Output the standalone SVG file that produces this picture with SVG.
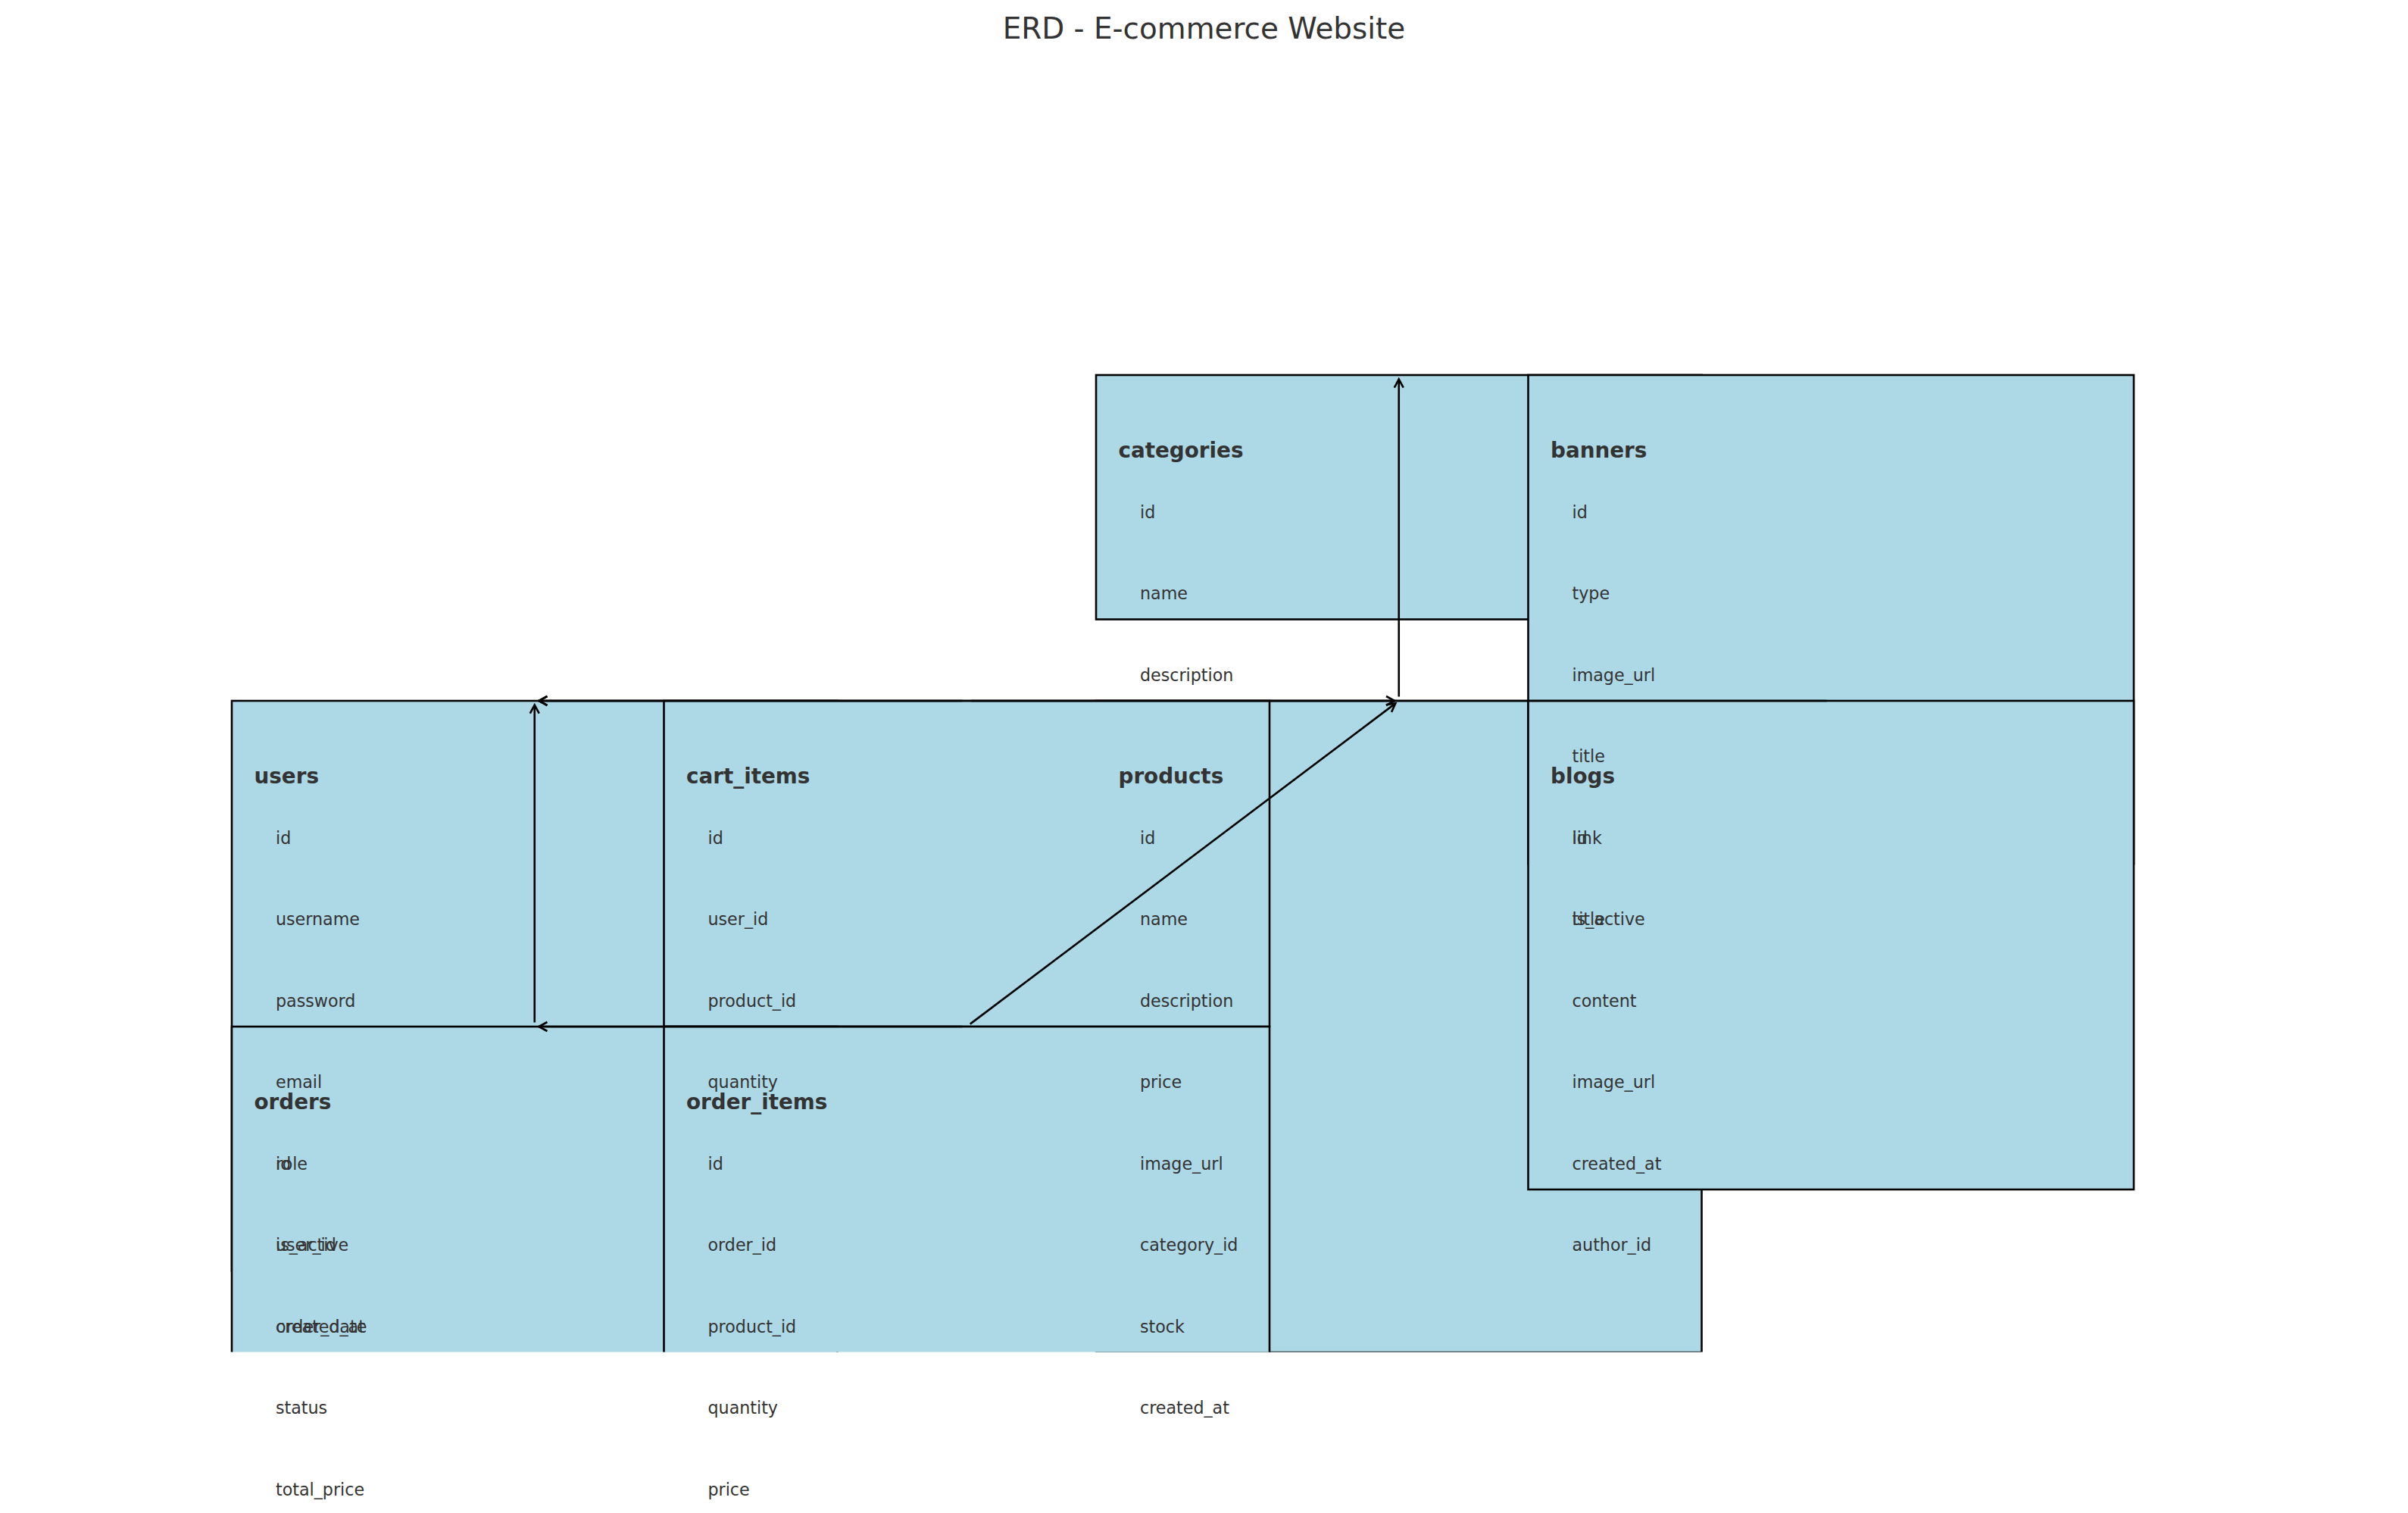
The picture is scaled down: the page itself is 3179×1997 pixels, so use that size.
<svg xmlns="http://www.w3.org/2000/svg" width="3179" height="1997" viewBox="0 0 3179 1997">
  <style>
    .tbl { fill: #ADD8E6; stroke: #000; stroke-width: 2.6; }
    .ttl { font-family: "DejaVu Sans", "Liberation Sans", sans-serif; font-size: 27.8px; font-weight: bold; fill: #333333; }
    .fld { font-family: "DejaVu Sans", "Liberation Sans", sans-serif; font-size: 22.2px; fill: #333333; }
    .head { font-family: "DejaVu Sans", "Liberation Sans", sans-serif; font-size: 38.9px; fill: #333333; }
    .rel { stroke: #000; stroke-width: 2.6; fill: none; marker-end: url(#open); }
  </style>
  <defs>
    <!-- plot area: shapes are clipped at its lower edge -->
    <clipPath id="plot">
      <rect x="0" y="0" width="3179" height="1784.5"/>
    </clipPath>
    <marker id="open" markerUnits="userSpaceOnUse" markerWidth="30" markerHeight="30" refX="0" refY="0" viewBox="-15 -15 30 30" orient="auto" overflow="visible">
      <path d="M -11.1 -6 L 0 0 L -11.1 6" fill="none" stroke="#000" stroke-width="2.6" stroke-linejoin="miter"/>
    </marker>
  </defs>

  <rect width="3179" height="1997" fill="#fff"/>

  <text class="head" x="1589.5" y="51" text-anchor="middle">ERD - E-commerce Website</text>

  <!-- table boxes -->
  <g id="tables" clip-path="url(#plot)">
    <g id="users"><rect class="tbl" x="306" y="925" width="799.5" height="752.5"/></g>
    <g id="categories"><rect class="tbl" x="1447" y="495" width="799.5" height="322.5"/></g>
    <g id="products"><rect class="tbl" x="1447" y="925" width="799.5" height="860"/></g>
    <g id="cart_items"><rect class="tbl" x="876.5" y="925" width="799.5" height="430"/></g>
    <g id="orders"><rect class="tbl" x="306" y="1355" width="799.5" height="537.5"/></g>
    <g id="order_items"><rect class="tbl" x="876.5" y="1355" width="799.5" height="537.5"/></g>
    <g id="banners"><rect class="tbl" x="2017.5" y="495" width="799.5" height="645"/></g>
    <g id="blogs"><rect class="tbl" x="2017.5" y="925" width="799.5" height="645"/></g>
  </g>

  <!-- table names and columns -->
  <g id="labels">
    <g id="users-labels">
      <text class="ttl" x="335.5" y="1033.5">users</text>
      <text class="fld" x="364" y="1113.5">id</text>
      <text class="fld" x="364" y="1221">username</text>
      <text class="fld" x="364" y="1328.5">password</text>
      <text class="fld" x="364" y="1436">email</text>
      <text class="fld" x="364" y="1543.5">role</text>
      <text class="fld" x="364" y="1651">is_active</text>
      <text class="fld" x="364" y="1758.5">created_at</text>
    </g>
    <g id="categories-labels">
      <text class="ttl" x="1476.5" y="603.5">categories</text>
      <text class="fld" x="1505" y="683.5">id</text>
      <text class="fld" x="1505" y="791">name</text>
      <text class="fld" x="1505" y="898.5">description</text>
    </g>
    <g id="products-labels">
      <text class="ttl" x="1476.5" y="1033.5">products</text>
      <text class="fld" x="1505" y="1113.5">id</text>
      <text class="fld" x="1505" y="1221">name</text>
      <text class="fld" x="1505" y="1328.5">description</text>
      <text class="fld" x="1505" y="1436">price</text>
      <text class="fld" x="1505" y="1543.5">image_url</text>
      <text class="fld" x="1505" y="1651">category_id</text>
      <text class="fld" x="1505" y="1758.5">stock</text>
      <text class="fld" x="1505" y="1866">created_at</text>
    </g>
    <g id="cart_items-labels">
      <text class="ttl" x="906" y="1033.5">cart_items</text>
      <text class="fld" x="934.5" y="1113.5">id</text>
      <text class="fld" x="934.5" y="1221">user_id</text>
      <text class="fld" x="934.5" y="1328.5">product_id</text>
      <text class="fld" x="934.5" y="1436">quantity</text>
    </g>
    <g id="orders-labels">
      <text class="ttl" x="335.5" y="1463.5">orders</text>
      <text class="fld" x="364" y="1543.5">id</text>
      <text class="fld" x="364" y="1651">user_id</text>
      <text class="fld" x="364" y="1758.5">order_date</text>
      <text class="fld" x="364" y="1866">status</text>
      <text class="fld" x="364" y="1973.5">total_price</text>
    </g>
    <g id="order_items-labels">
      <text class="ttl" x="906" y="1463.5">order_items</text>
      <text class="fld" x="934.5" y="1543.5">id</text>
      <text class="fld" x="934.5" y="1651">order_id</text>
      <text class="fld" x="934.5" y="1758.5">product_id</text>
      <text class="fld" x="934.5" y="1866">quantity</text>
      <text class="fld" x="934.5" y="1973.5">price</text>
    </g>
    <g id="banners-labels">
      <text class="ttl" x="2047" y="603.5">banners</text>
      <text class="fld" x="2075.5" y="683.5">id</text>
      <text class="fld" x="2075.5" y="791">type</text>
      <text class="fld" x="2075.5" y="898.5">image_url</text>
      <text class="fld" x="2075.5" y="1006">title</text>
      <text class="fld" x="2075.5" y="1113.5">link</text>
      <text class="fld" x="2075.5" y="1221">is_active</text>
    </g>
    <g id="blogs-labels">
      <text class="ttl" x="2047" y="1033.5">blogs</text>
      <text class="fld" x="2075.5" y="1113.5">id</text>
      <text class="fld" x="2075.5" y="1221">title</text>
      <text class="fld" x="2075.5" y="1328.5">content</text>
      <text class="fld" x="2075.5" y="1436">image_url</text>
      <text class="fld" x="2075.5" y="1543.5">created_at</text>
      <text class="fld" x="2075.5" y="1651">author_id</text>
    </g>
  </g>

  <!-- foreign-key relations, child table to parent table -->
  <g id="connectors">
    <line class="rel" x1="1270.65" y1="925" x2="711.35" y2="925"/>
    <line class="rel" x1="1281.85" y1="925" x2="1841.15" y2="925"/>
    <line class="rel" x1="1846.75" y1="919.4" x2="1846.75" y2="500.6"/>
    <line class="rel" x1="705.75" y1="1349.4" x2="705.75" y2="930.6"/>
    <line class="rel" x1="1270.65" y1="1355" x2="711.35" y2="1355"/>
    <line class="rel" x1="1280.72" y1="1351.63" x2="1842.28" y2="928.37"/>
    <line class="rel" x1="2411.65" y1="925" x2="711.35" y2="925"/>
  </g>
</svg>
